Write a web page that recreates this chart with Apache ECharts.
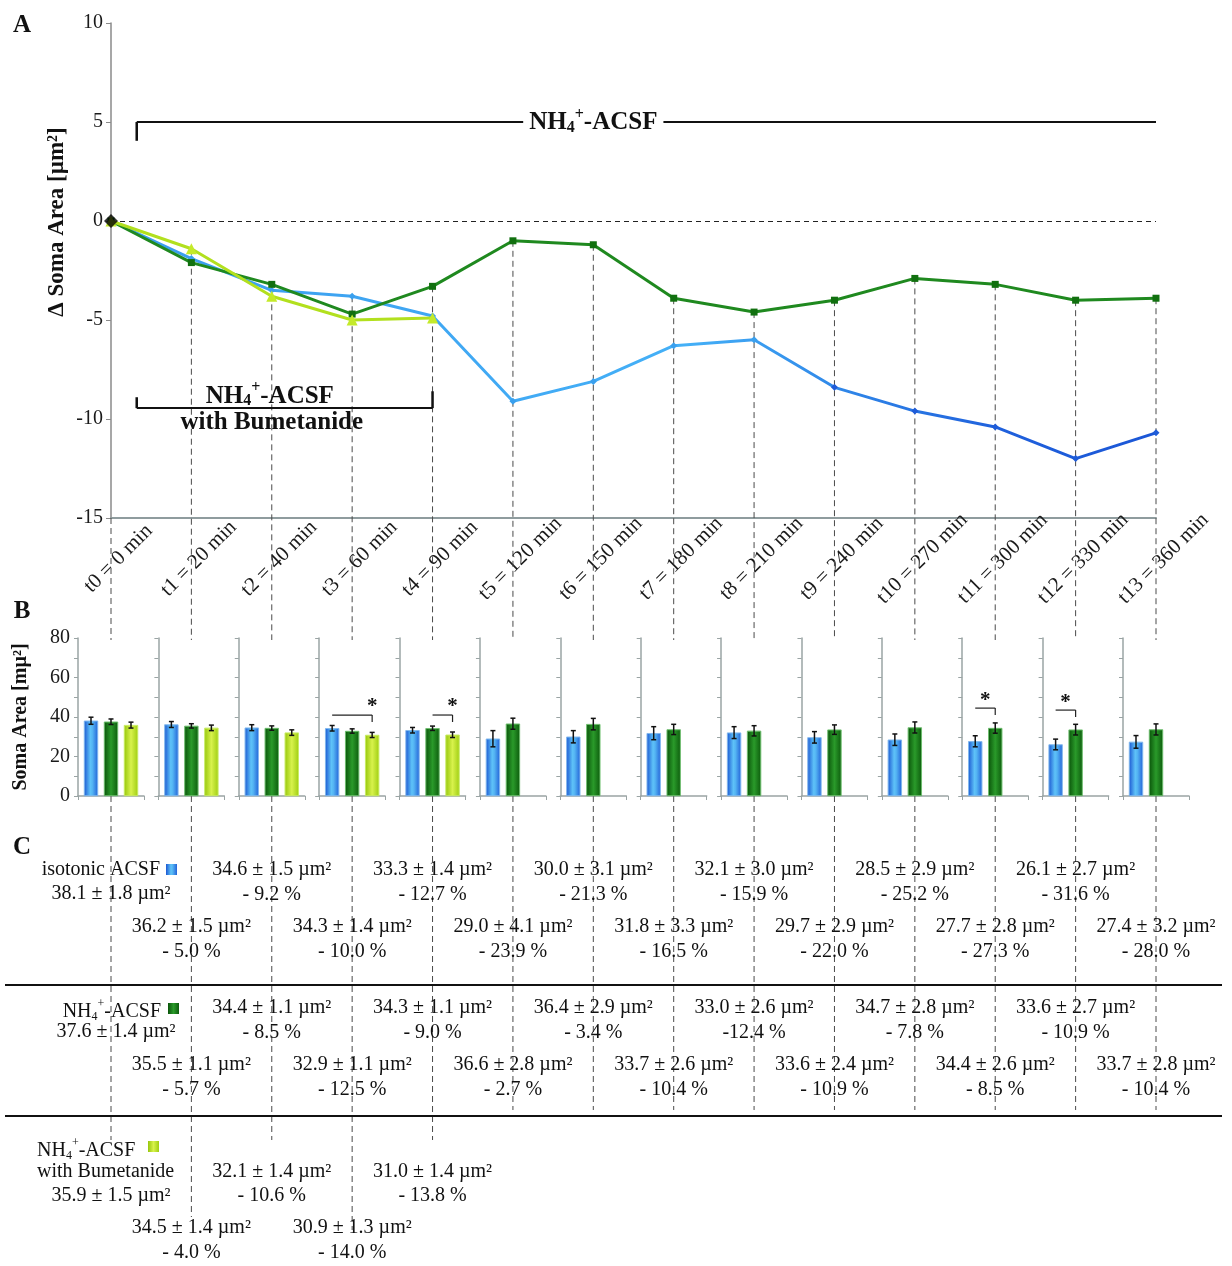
<!DOCTYPE html>
<html>
<head>
<meta charset="utf-8">
<script src="https://cdn.jsdelivr.net/npm/echarts@6/dist/echarts.min.js"></script>
<style>
  html, body { margin: 0; padding: 0; background: #fff; }
  #chart { width: 1232px; height: 1266px; }
</style>
</head>
<body>
<div id="chart"></div>
<script>
// ---- time points ----
const timeLabels = ['t0 = 0 min', 't1 = 20 min', 't2 = 40 min', 't3 = 60 min', 't4 = 90 min',
  't5 = 120 min', 't6 = 150 min', 't7 = 180 min', 't8 = 210 min', 't9 = 240 min',
  't10 = 270 min', 't11 = 300 min', 't12 = 330 min', 't13 = 360 min'];

// ---- change of soma area relative to t0 [µm²] ----
const deltaIsotonic = [0, -1.9, -3.5, -3.8, -4.8, -9.1, -8.1, -6.3, -6.0, -8.4, -9.6, -10.4, -12.0, -10.7];
const deltaNH4 = [0, -2.1, -3.2, -4.7, -3.3, -1.0, -1.2, -3.9, -4.6, -4.0, -2.9, -3.2, -4.0, -3.9];
const deltaBumetanide = [0, -1.4, -3.8, -5.0, -4.9];

// ---- absolute soma area (mean ± SEM) [µm²] ----
const areaIsotonic = [38.1, 36.2, 34.6, 34.3, 33.3, 29.0, 30.0, 31.8, 32.1, 29.7, 28.5, 27.7, 26.1, 27.4];
const semIsotonic = [1.8, 1.5, 1.5, 1.4, 1.4, 4.1, 3.1, 3.3, 3.0, 2.9, 2.9, 2.8, 2.7, 3.2];
const areaNH4 = [37.6, 35.5, 34.4, 32.9, 34.3, 36.6, 36.4, 33.7, 33.0, 33.6, 34.7, 34.4, 33.6, 33.7];
const semNH4 = [1.4, 1.1, 1.1, 1.1, 1.1, 2.8, 2.9, 2.6, 2.6, 2.4, 2.8, 2.6, 2.7, 2.8];
const areaBumetanide = [35.9, 34.5, 32.1, 30.9, 31.0];
const semBumetanide = [1.5, 1.4, 1.4, 1.3, 1.4];

// ---- relative change to t0 ----
const changeIsotonic = ['', '- 5.0 %', '- 9.2 %', '- 10.0 %', '- 12.7 %', '- 23.9 %', '- 21.3 %',
  '- 16.5 %', '- 15.9 %', '- 22.0 %', '- 25.2 %', '- 27.3 %', '- 31.6 %', '- 28.0 %'];
const changeNH4 = ['', '- 5.7 %', '- 8.5 %', '- 12.5 %', '- 9.0 %', '- 2.7 %', '- 3.4 %',
  '- 10.4 %', '-12.4 %', '- 10.9 %', '- 7.8 %', '- 8.5 %', '- 10.9 %', '- 10.4 %'];
const changeBumetanide = ['', '- 4.0 %', '- 10.6 %', '- 14.0 %', '- 13.8 %'];

// ---- axis ticks ----
const deltaTicks = { min: -15, max: 10, step: 5 };
const areaTicks = { min: 0, max: 80, step: 20 };

// ---- significant pairs (time point, first bar, second bar; bar 0 = isotonic, 1 = NH4, 2 = bumetanide) ----
const significance = [
  { time: 3, from: 0, to: 2 },
  { time: 4, from: 1, to: 2 },
  { time: 11, from: 0, to: 1 },
  { time: 12, from: 0, to: 1 }
];

// ================= layout & styles =================
const SERIF = '"Liberation Serif", "Times New Roman", serif';
const W = 1232;
const A_LEFT = 111, A_RIGHT = 76, A_TOP = 23, A_HEIGHT = 495;
const STEP = (W - A_LEFT - A_RIGHT) / (timeLabels.length - 1);
const B_TOP = 638, B_HEIGHT = 158, B_HALF = 33;
const BAR_W = 14, BAR_GAP = 6, BAR_PITCH = BAR_W + BAR_GAP;
const bracketLevel = { 3: 41, 4: 41, 11: 44.5, 12: 43.5 };
const starAt = { 3: 'end', 4: 'end', 11: 'mid', 12: 'mid' };

const G = echarts.graphic;
const blueBar = new G.LinearGradient(0, 0, 1, 0, [
  { offset: 0, color: '#1c58d2' }, { offset: 0.45, color: '#5ec2f8' },
  { offset: 0.6, color: '#54b4f3' }, { offset: 1, color: '#2363d8' }]);
const greenBar = new G.LinearGradient(0, 0, 1, 0, [
  { offset: 0, color: '#0a540a' }, { offset: 0.5, color: '#2a9a2a' }, { offset: 1, color: '#0d5c0d' }]);
const yellowBar = new G.LinearGradient(0, 0, 1, 0, [
  { offset: 0, color: '#96c60c' }, { offset: 0.5, color: '#d8f24c' }, { offset: 1, color: '#a0ce12' }]);
const blueLine = new G.LinearGradient(0, 0, 1, 0, [
  { offset: 0, color: '#3a9cee' }, { offset: 0.55, color: '#44b0f7' },
  { offset: 0.7, color: '#2f86e8' }, { offset: 0.85, color: '#1f60dc' }, { offset: 1, color: '#1b56d6' }]);

const chart = echarts.init(document.getElementById('chart'), null, { renderer: 'canvas' });

const grids = [{ left: A_LEFT, right: A_RIGHT, top: A_TOP, height: A_HEIGHT }];
const xAxes = [{
  type: 'category', gridIndex: 0, data: timeLabels, boundaryGap: false,
  axisLine: { onZero: false, lineStyle: { color: '#8f9c9e', width: 2 } },
  axisTick: { show: false },
  axisLabel: {
    interval: 0, rotate: 45, align: 'center', verticalAlign: 'middle', margin: 48,
    padding: [21, 0, 0, 21], fontFamily: SERIF, fontSize: 21, color: '#1a1a1a'
  }
}];
const yAxes = [{
  type: 'value', gridIndex: 0, min: deltaTicks.min, max: deltaTicks.max, interval: deltaTicks.step,
  axisLine: { show: true, lineStyle: { color: '#8a8a8a', width: 1.5 } },
  axisTick: { show: true, length: 5, lineStyle: { color: '#8a8a8a' } },
  splitLine: { show: false },
  axisLabel: { fontFamily: SERIF, fontSize: 20, color: '#1a1a1a', margin: 8 }
}];

const series = [
  {
    type: 'line', name: 'isotonic ACSF', xAxisIndex: 0, yAxisIndex: 0, data: deltaIsotonic,
    symbol: 'diamond', symbolSize: 7, z: 3,
    lineStyle: { width: 3, color: blueLine },
    itemStyle: { color: p => (p.dataIndex >= 9 ? '#1f5cd8' : '#3aa0ee') },
    markLine: {
      silent: true, symbol: 'none', label: { show: false },
      lineStyle: { type: [5, 4], color: '#222', width: 1 },
      data: [{ yAxis: 0 }]
    }
  },
  {
    type: 'line', name: 'NH4+-ACSF', xAxisIndex: 0, yAxisIndex: 0, data: deltaNH4,
    symbol: 'rect', symbolSize: 7, z: 4,
    lineStyle: { width: 3, color: '#1f891f' }, itemStyle: { color: '#11700f' }
  },
  {
    type: 'line', name: 'NH4+-ACSF with Bumetanide', xAxisIndex: 0, yAxisIndex: 0, data: deltaBumetanide,
    symbol: 'triangle', symbolSize: 11, z: 5,
    lineStyle: { width: 3, color: '#b2e01e' }, itemStyle: { color: '#c4ea2a' }
  },
  {
    type: 'scatter', name: 't0', xAxisIndex: 0, yAxisIndex: 0, data: [[0, deltaIsotonic[0]]],
    symbol: 'diamond', symbolSize: 14, z: 6, itemStyle: { color: '#000' }
  }
];

// ---- panel B: one small bar chart per time point ----
const barGroups = [
  { area: areaIsotonic, sem: semIsotonic, color: blueBar, border: '#7fb8ee' },
  { area: areaNH4, sem: semNH4, color: greenBar, border: '#6cc06c' },
  { area: areaBumetanide, sem: semBumetanide, color: yellowBar, border: '#c8ec60' }
];

timeLabels.forEach((t, g) => {
  const gi = g + 1;
  grids.push({ left: A_LEFT + g * STEP - B_HALF, top: B_TOP, width: 2 * B_HALF, height: B_HEIGHT });
  xAxes.push({
    type: 'category', gridIndex: gi, data: [t],
    axisLine: { lineStyle: { color: '#9aa4a4', width: 1.5 } },
    axisTick: { show: true, length: 4, lineStyle: { color: '#9aa4a4' } },
    axisLabel: { show: false }
  });
  yAxes.push({
    type: 'value', gridIndex: gi, min: areaTicks.min, max: areaTicks.max, interval: areaTicks.step / 2,
    axisLine: { show: true, lineStyle: { color: '#9aa4a4', width: 1.5 } },
    axisTick: { show: true, length: 4, lineStyle: { color: '#9aa4a4' } },
    splitLine: { show: false },
    axisLabel: {
      show: g === 0, fontFamily: SERIF, fontSize: 20, color: '#1a1a1a', margin: 8,
      formatter: v => (v % areaTicks.step === 0 ? String(v) : '')
    }
  });
  barGroups.forEach((grp) => {
    const v = grp.area[g];
    series.push({
      type: 'bar', xAxisIndex: gi, yAxisIndex: gi, barWidth: BAR_W,
      barGap: (BAR_GAP / BAR_W * 100) + '%',
      data: [v == null ? '-' : v],
      itemStyle: { color: grp.color, borderColor: grp.border, borderWidth: 0.6 },
      silent: true
    });
  });
  const errs = [];
  barGroups.forEach((grp, slot) => {
    if (grp.area[g] != null) errs.push([0, grp.area[g], grp.sem[g], slot]);
  });
  series.push({
    type: 'custom', xAxisIndex: gi, yAxisIndex: gi, data: errs, z: 6, silent: true,
    renderItem(params, api) {
      const v = api.value(1), s = api.value(2), slot = api.value(3);
      const cx = api.coord([0, v])[0] + (slot - 1) * BAR_PITCH;
      const yt = api.coord([0, v + s])[1], yb = api.coord([0, v - s])[1];
      const st = { stroke: '#111', lineWidth: 1.5 };
      return {
        type: 'group', children: [
          { type: 'line', shape: { x1: cx, y1: yt, x2: cx, y2: yb }, style: st },
          { type: 'line', shape: { x1: cx - 2.5, y1: yt, x2: cx + 2.5, y2: yt }, style: st },
          { type: 'line', shape: { x1: cx - 2.5, y1: yb, x2: cx + 2.5, y2: yb }, style: st }
        ]
      };
    }
  });
});

chart.setOption({
  animation: false,
  backgroundColor: '#fff',
  grid: grids, xAxis: xAxes, yAxis: yAxes, series: series
});

// ================= annotations positioned through the axes =================
const pA = (i, v) => chart.convertToPixel({ xAxisIndex: 0, yAxisIndex: 0 }, [i, v]);
const pB = (g, v) => chart.convertToPixel({ xAxisIndex: g + 1, yAxisIndex: g + 1 }, [0, v]);
const els = [];

const line = (x1, y1, x2, y2, stroke, width, dash) => els.push({
  type: 'line', silent: true, z: 1,
  shape: { x1, y1, x2, y2 },
  style: { stroke, lineWidth: width, lineDash: dash || null }
});
const text = (str, x, y, opt) => els.push(Object.assign({
  type: 'text', silent: true, x, y, z: 10,
  style: Object.assign({
    text: str, fontFamily: SERIF, fontSize: 20, fill: '#111',
    align: 'center', verticalAlign: 'middle'
  }, (opt && opt.style) || {})
}, (opt && opt.el) || {}));

// NH4+ written with sub/superscript
function nh4Style(size, weight) {
  const small = Math.round(size * 0.62);
  return {
    text: '{n|NH}{sub|4}{sup|+}{n|-ACSF}',
    rich: {
      n: { fontSize: size, fontFamily: SERIF, fontWeight: weight, lineHeight: size, verticalAlign: 'top', padding: [6, 0, 0, 0], fill: '#111' },
      sub: { fontSize: small, fontFamily: SERIF, fontWeight: weight, lineHeight: small, verticalAlign: 'top', padding: [6 + size / 2 + 5 - small / 2, 0, 0, 0], fill: '#111' },
      sup: { fontSize: small, fontFamily: SERIF, fontWeight: weight, lineHeight: small, verticalAlign: 'top', padding: [6 + size / 2 - 8 - small / 2, 0, 0, 0], fill: '#111' }
    }
  };
}

// guide lines from the time points down through panels B and C
const axisBottom = pA(0, deltaTicks.min)[1];
const bTop = pB(0, areaTicks.max)[1];
const bBottom = pB(0, areaTicks.min)[1];
const guideEnd = [1140, 1217, 1140, 1230, 1140];
timeLabels.forEach((t, i) => {
  const x = pA(i, 0)[0];
  let top = axisBottom;
  if (i > 0) {
    const vals = [deltaIsotonic[i], deltaNH4[i], deltaBumetanide[i]].filter(v => v != null);
    top = pA(i, Math.max.apply(null, vals))[1];
  }
  line(x, top, x, bTop + 2, '#4a4a4a', 1, [6, 4]);
  line(x, bBottom, x, guideEnd[i] || 1110, '#4a4a4a', 1, [6, 4]);
});

// treatment brackets in panel A
const x0 = pA(0, 0)[0];
const xStart = x0 + 0.32 * STEP;
const yTop = pA(0, 5)[1];
line(xStart, yTop, pA(13, 5)[0], yTop, '#111', 2);
line(xStart, yTop, xStart, pA(0, 4.05)[1], '#111', 2.5);
els.push({
  type: 'text', silent: true, z: 10, x: pA(6, 5)[0], y: yTop - 5,
  style: Object.assign(nh4Style(25, 'bold'), {
    align: 'center', verticalAlign: 'middle', backgroundColor: '#fff', padding: [0, 6, 0, 6]
  })
});
const yBum = pA(0, -9.45)[1];
const xBumEnd = pA(4, 0)[0];
line(xStart, yBum, xBumEnd, yBum, '#111', 2);
line(xStart, yBum, xStart, pA(0, -8.9)[1], '#111', 2.5);
line(xBumEnd, yBum, xBumEnd, pA(0, -8.6)[1], '#111', 2.5);
els.push({
  type: 'text', silent: true, z: 10, x: pA(2, 0)[0] - 2, y: yBum - 18,
  style: Object.assign(nh4Style(25, 'bold'), { align: 'center', verticalAlign: 'middle' })
});
text('with Bumetanide', pA(2, 0)[0], yBum + 14, { style: { fontSize: 25, fontWeight: 'bold' } });

// panel letters and axis titles
text('A', 22, 26, { style: { fontSize: 25, fontWeight: 'bold' } });
text('B', 22, 612, { style: { fontSize: 25, fontWeight: 'bold' } });
text('C', 22, 848, { style: { fontSize: 25, fontWeight: 'bold' } });
text('\u0394 Soma Area [µm²]', 57, 222, { style: { fontSize: 23, fontWeight: 'bold' }, el: { rotation: Math.PI / 2 } });
text('Soma Area [mµ²]', 21, 717, { style: { fontSize: 20, fontWeight: 'bold' }, el: { rotation: Math.PI / 2 } });

// significance brackets in panel B
significance.forEach(s => {
  const base = pB(s.time, bracketLevel[s.time]);
  const x1 = base[0] + (s.from - 1) * BAR_PITCH;
  const x2 = base[0] + (s.to - 1) * BAR_PITCH;
  line(x1, base[1], x2, base[1], '#222', 1.2);
  line(x2, base[1], x2, base[1] + 7, '#222', 1.2);
  const sx = starAt[s.time] === 'end' ? x2 : (x1 + x2) / 2;
  text('*', sx, base[1] - 8, { style: { fontSize: 21, fontWeight: 'bold' } });
});

// panel C: summary table
const fmt = (v, s) => v.toFixed(1) + ' ± ' + s.toFixed(1) + ' µm²';
const sq = (x, y, grad) => els.push({
  type: 'rect', silent: true, z: 10, shape: { x, y, width: 11, height: 11 }, style: { fill: grad }
});
function block(area, sem, change, rows) {
  area.forEach((v, i) => {
    if (i === 0) return;
    const x = pA(i, 0)[0];
    const r = i % 2 === 0 ? rows.even : rows.odd;
    text(fmt(v, sem[i]), x, r[0]);
    text(change[i], x, r[1]);
  });
}
// isotonic
text('isotonic ACSF', x0 + 49, 870, { style: { align: 'right' } });
sq(x0 + 55, 864, blueBar);
text(fmt(areaIsotonic[0], semIsotonic[0]), x0, 894);
block(areaIsotonic, semIsotonic, changeIsotonic, { even: [870, 895], odd: [927, 952] });
line(5, 985, 1222, 985, '#111', 2);
// NH4+
els.push({
  type: 'text', silent: true, z: 10, x: x0 + 50, y: 1006,
  style: Object.assign(nh4Style(20, 'normal'), { align: 'right', verticalAlign: 'middle' })
});
sq(x0 + 57, 1003, greenBar);
text(fmt(areaNH4[0], semNH4[0]), x0 + 5, 1032);
block(areaNH4, semNH4, changeNH4, { even: [1008, 1033], odd: [1065, 1090] });
line(5, 1116, 1222, 1116, '#111', 2);
// NH4+ with bumetanide
els.push({
  type: 'text', silent: true, z: 10, x: x0 - 74, y: 1145,
  style: Object.assign(nh4Style(20, 'normal'), { align: 'left', verticalAlign: 'middle' })
});
sq(x0 + 37, 1141, yellowBar);
text('with Bumetanide', x0 - 74, 1172, { style: { align: 'left' } });
text(fmt(areaBumetanide[0], semBumetanide[0]), x0, 1196);
block(areaBumetanide, semBumetanide, changeBumetanide, { even: [1172, 1196], odd: [1228, 1253] });

chart.setOption({ graphic: { elements: els } });
</script>
</body>
</html>
